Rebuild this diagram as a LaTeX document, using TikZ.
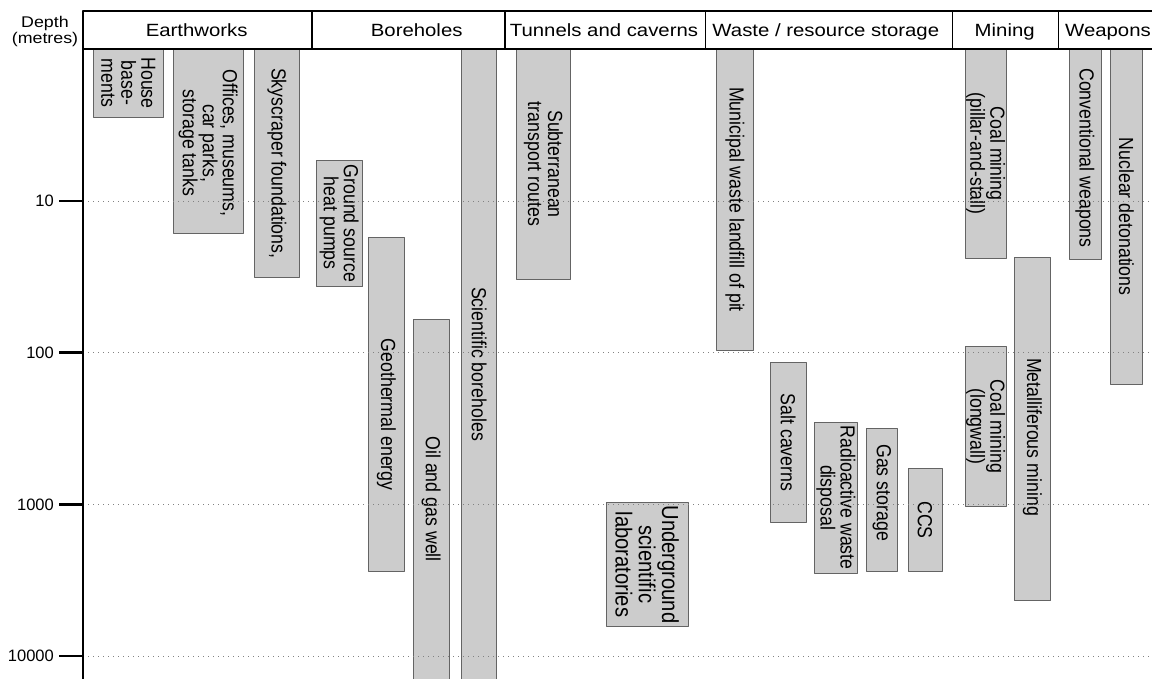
\documentclass[tikz,border=0pt]{standalone}
\usepackage{fontspec}
\setmainfont{Liberation Sans}
\newfontfamily\hdfont[FakeStretch=1.15]{Liberation Sans}
\newfontfamily\barfont[FakeStretch=0.87]{Liberation Sans}
\definecolor{barfill}{RGB}{204,204,204}
\definecolor{baredge}{RGB}{100,100,100}
\definecolor{gridgray}{RGB}{130,130,130}
\begin{document}
\begin{tikzpicture}[x=1pt,y=-1pt,line join=round,
  bar/.style={fill=barfill,draw=baredge,line width=1pt},
  barlabel/.style={rotate=-90,align=center,inner sep=0pt,font=\barfont\fontsize{20.4}{20}\selectfont},
  head/.style={anchor=base,inner sep=0pt,font=\hdfont\fontsize{17.7}{20}\selectfont},
  gridline/.style={gridgray,line width=0.9pt,dash pattern=on 1.2pt off 3.8pt},
  axisline/.style={black,line width=1.3pt}]
\def\ytop{11}
\def\yone{49.3}
\def\dec{151.7}
\useasboundingbox (0,0) rectangle (1152,678);
% bars: name / left / top / right / bottom / shift of label / label
\foreach \nm/\xa/\ya/\xb/\yb/\dy/\txt in {
  house/93/49/163.5/117/0/{House\\base-\\ments},
  offices/173/49/243.3/233.3/2/{Offices, museums,\\car parks,\\storage tanks},
  skyscraper/254.5/49/299.3/277.7/0/{Skyscraper foundations,},
  groundsource/316/160/362.5/286.7/0/{Ground source\\heat pumps},
  geothermal/368.5/237.7/404.3/571.7/10/{Geothermal energy},
  oilgas/413.3/319.3/449/679/0/{Oil and gas well},
  scientific/461.7/49/496.7/679/0/{Scientific boreholes},
  subterranean/516.7/49/570/279/0/{Subterranean\\transport routes},
  municipal/716.7/49/753.3/350/0/{Municipal waste landfill of pit},
  salt/770.3/362.7/806/522.3/0/{Salt caverns},
  radioactive/814.7/422/857.3/573.3/0/{Radioactive waste\\disposal},
  gasstorage/866.3/428.3/897.3/571/-7/{Gas storage},
  ccs/908/468.3/942/571.7/0/{CCS},
  coalpillar/965.3/49/1006/258/0/{Coal mining\\(pillar-and-stall)},
  coallong/965.3/346.7/1006/506/0/{Coal mining\\(longwall)},
  metal/1014/257.3/1050.7/600.7/8/{Metalliferous mining},
  conventional/1069/49/1101/259/4/{Conventional weapons},
  nuclear/1110.7/49/1142.3/384.3/0/{Nuclear detonations}}
{
  \draw[bar] (\xa,\ya) rectangle (\xb,\yb);
  \node[barlabel] (\nm) at ({(\xa+\xb)/2},{(\ya+\yb)/2+\dy}) {\txt};
}
\draw[bar] (606,502.7) rectangle (688.3,626);
\node[barlabel,font=\barfont\fontsize{23.2}{23.3}\selectfont] (underground) at (647.2,564.4) {Underground\\scientific\\laboratories};
% depth scale
\foreach \i/\lab in {1/10,2/100,3/1000,4/10000}{
  \pgfmathsetmacro\yy{\yone+\dec*\i}
  \draw[gridline] (83,\yy) -- (1152,\yy);
  \draw[line width=2.5pt] (59,\yy) -- (83,\yy);
  \node[anchor=east,inner sep=0pt,font=\fontsize{16.5}{18}\selectfont] (tick\i) at (54,\yy) {\lab};
}
\node[align=center,inner sep=0pt,font=\hdfont\fontsize{15.5}{16}\selectfont] (depth) at (45,31.3) {Depth\\(metres)};
% header row
\draw[axisline] (1153,\ytop) -- (83,\ytop) -- (83,679);
\draw[axisline] (83,49) -- (1153,49);
\foreach \xd in {312,505,705.3,952.3,1058.7} \draw[axisline] (\xd,\ytop) -- (\xd,49);
\node[head] (hearth) at (196.7,36.7) {Earthworks};
\node[head] (hbore) at (416.7,36.7) {Boreholes};
\node[head] (htunnel) at (604,36.7) {Tunnels and caverns};
\node[head] (hwaste) at (825.8,36.7) {Waste / resource storage};
\node[head] (hmining) at (1004.7,36.7) {Mining};
\node[head] (hweapons) at (1108,36.7) {Weapons};
\end{tikzpicture}
\end{document}
